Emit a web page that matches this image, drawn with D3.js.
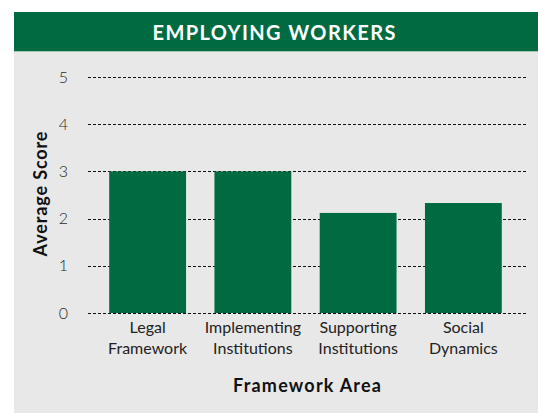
<!DOCTYPE html>
<html>
<head>
<meta charset="utf-8">
<script src="https://cdn.jsdelivr.net/npm/d3@7"></script>
<style>
  html, body { margin: 0; padding: 0; background: #ffffff; }
  svg { display: block; }
  text { font-family: Lato, "Open Sans", sans-serif; }
</style>
</head>
<body>
<svg id="chart" width="538" height="414"></svg>
<script>
// Employing workers: average score per framework area
const categories = [
  ["Legal", "Framework"],
  ["Implementing", "Institutions"],
  ["Supporting", "Institutions"],
  ["Social", "Dynamics"]
];
const scores = [3.0, 3.0, 2.12, 2.33];
const yTicks = [0, 1, 2, 3, 4, 5];
const titleText = "EMPLOYING WORKERS";
const yTitle = "Average Score";
const xTitle = "Framework Area";

const green = "#006b41";
const svg = d3.select("#chart");

// Panel and header band
svg.append("rect").attr("x", 14).attr("y", 12).attr("width", 524).attr("height", 401)
  .attr("fill", "#e8e8e8");
svg.append("rect").attr("x", 14).attr("y", 12).attr("width", 524).attr("height", 39)
  .attr("fill", green);
svg.append("line").attr("x1", 14).attr("x2", 538).attr("y1", 51.5).attr("y2", 51.5)
  .attr("stroke", "#9cc9b0").attr("stroke-width", 1);
svg.append("text").attr("x", 274).attr("y", 39.5)
  .attr("text-anchor", "middle").attr("fill", "#ffffff")
  .attr("font-size", 20).attr("font-weight", 700)
  .attr("textLength", 243).attr("lengthAdjust", "spacing")
  .text(titleText);

const x = d3.scaleBand()
  .domain(categories.map(c => c.join(" ")))
  .range([95, 516])
  .paddingInner(0.27)
  .paddingOuter(0.135);

const y = d3.scaleLinear().domain([0, 5]).range([313, 77]);

// Tick labels
const yAxis = svg.append("g").attr("transform", "translate(88,0)")
  .call(d3.axisLeft(y).tickValues(yTicks).tickSize(0).tickPadding(20).tickFormat(d3.format("d")));
yAxis.select(".domain").remove();
yAxis.selectAll("text").attr("font-size", 16).attr("fill", "#2a2a2a").attr("font-weight", 300)
  .attr("font-family", "Lato, sans-serif");

// Dashed gridlines
svg.append("g").selectAll("line").data(yTicks).join("line")
  .attr("x1", 88).attr("x2", 526)
  .attr("y1", d => Math.round(y(d)) + 0.5).attr("y2", d => Math.round(y(d)) + 0.5)
  .attr("stroke", "#111").attr("stroke-width", 1).attr("stroke-dasharray", "3,2");

// Bars
svg.append("g").selectAll("rect").data(scores).join("rect")
  .attr("x", (d, i) => x(categories[i].join(" ")))
  .attr("width", x.bandwidth())
  .attr("y", d => y(d))
  .attr("height", d => y(0) - y(d))
  .attr("fill", green);

// Two-line category labels
const labels = svg.append("g").selectAll("text").data(categories).join("text")
  .attr("text-anchor", "middle").attr("font-size", 16).attr("fill", "#222");
labels.each(function(c) {
  const cx = x(c.join(" ")) + x.bandwidth() / 2;
  d3.select(this).selectAll("tspan").data(c).join("tspan")
    .attr("x", cx).attr("y", (d, j) => 333 + j * 21).text(d => d);
});

// Axis titles
svg.append("text").attr("x", 307).attr("y", 391.5)
  .attr("text-anchor", "middle").attr("font-size", 18).attr("font-weight", 700).attr("fill", "#111")
  .attr("textLength", 148).attr("lengthAdjust", "spacing")
  .text(xTitle);
svg.append("text").attr("transform", "translate(47,194) rotate(-90)")
  .attr("text-anchor", "middle").attr("font-size", 18).attr("font-weight", 700).attr("fill", "#111")
  .attr("textLength", 125).attr("lengthAdjust", "spacing")
  .text(yTitle);
</script>
</body>
</html>
